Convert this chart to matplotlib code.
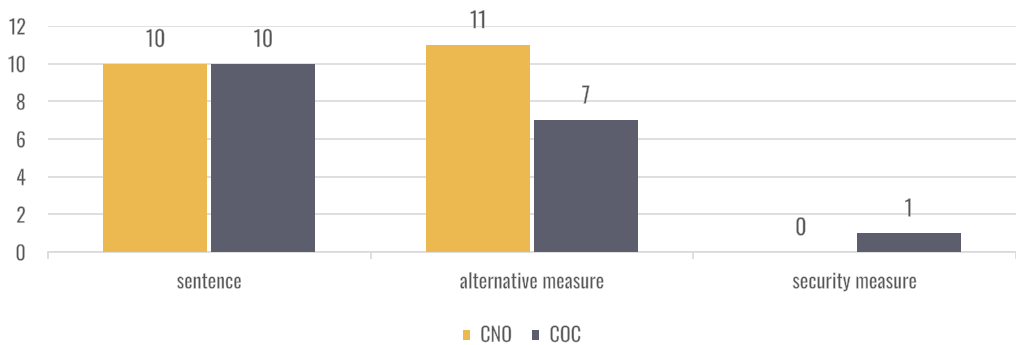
import matplotlib
matplotlib.use("Agg")
import matplotlib.pyplot as plt
import matplotlib.patheffects as pe
import numpy as np

categories = ["sentence", "alternative measure", "security measure"]
series_names = ["CNO", "COC"]
cno_values = [10, 11, 0]
coc_values = [10, 7, 1]
y_ticks = [0, 2, 4, 6, 8, 10, 12]

colors = ["#ECB850", "#5C5D6D"]
text_col = "#555555"

plt.rcParams["font.family"] = ["Oswald", "DejaVu Sans"]
# erode the glyph outlines slightly for a lighter stroke weight
thin = [pe.Normal(), pe.Stroke(linewidth=0.35, foreground="white")]

fig = plt.figure(figsize=(10.16, 3.45), dpi=100)
ax = fig.add_axes([48 / 1016, (345 - 252) / 345, (1016 - 48) / 1016, 226 / 345])

x = np.arange(len(categories))
w = 0.322
gap = 0.012
for i, (vals, c) in enumerate(zip([cno_values, coc_values], colors)):
    offs = (i - 0.5) * (w + gap)
    bars = ax.bar(x + offs, vals, width=w, color=c, label=series_names[i], zorder=3)
    for b, v in zip(bars, vals):
        ax.annotate(str(v), (b.get_x() + b.get_width() / 2, v), xytext=(0, 12),
                    textcoords="offset points", ha="center", va="baseline",
                    fontsize=16, color=text_col, path_effects=thin)

ax.set_xlim(-0.5, len(categories) - 0.5)
ax.set_ylim(0, 12)
ax.set_yticks(y_ticks)
ax.yaxis.grid(True, color="#D9D9D9", linewidth=1.2, zorder=0)
ax.set_axisbelow(True)
for s in ["top", "right", "left"]:
    ax.spines[s].set_visible(False)
ax.spines["bottom"].set_color("#D9D9D9")
ax.spines["bottom"].set_linewidth(1.2)
ax.tick_params(axis="y", length=0, pad=16, labelsize=14.5, labelcolor=text_col)

ax.set_xticks(x)
ax.set_xticklabels(categories)
ax.tick_params(axis="x", length=0, pad=14, labelsize=14.5, labelcolor=text_col)
ax.set_xticks(np.arange(len(categories) + 1) - 0.5, minor=True)
ax.tick_params(axis="x", which="minor", length=5, color="#D9D9D9", width=1.2)

for t in ax.get_xticklabels() + ax.get_yticklabels():
    t.set_path_effects(thin)

leg = fig.legend(loc="center", bbox_to_anchor=(522 / 1016, 1 - 335 / 345), ncol=2,
                 frameon=False, fontsize=14.5, handlelength=0.36, handleheight=0.36,
                 handletextpad=0.5, columnspacing=1.0)
for t in leg.get_texts():
    t.set_color(text_col)
    t.set_path_effects(thin)

fig.savefig("out.png", dpi=100)
